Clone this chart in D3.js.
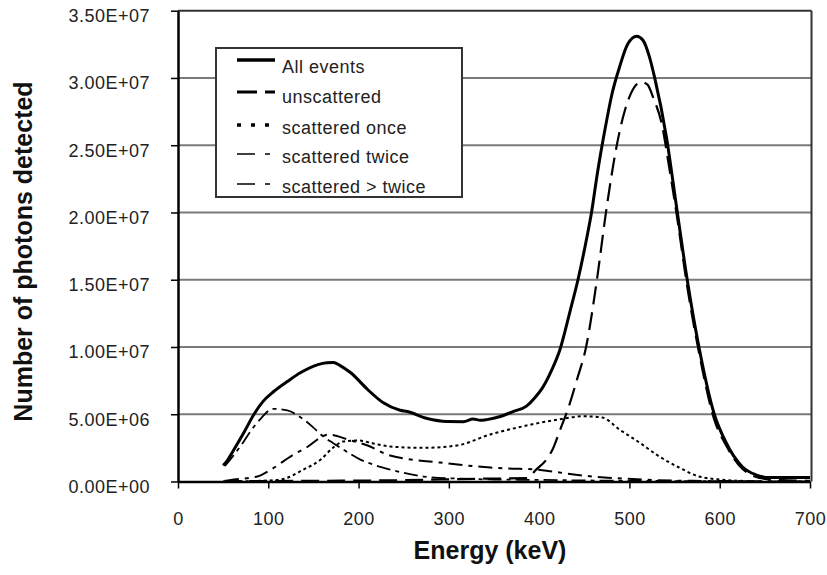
<!DOCTYPE html>
<html><head><meta charset="utf-8">
<script src="https://cdn.jsdelivr.net/npm/d3@7"></script>
<style>
body{margin:0;background:#fff}
text{font-family:"Liberation Sans",Arial,Helvetica,sans-serif}
</style>
</head><body>
<svg id="c" width="827" height="575"></svg>
<script>
// ---- data (energy in keV, counts in millions) ----
const allEnergy = [50,53,62,73,84,94,106,121,136,155,165,172,180,191,210,227,246,254,276,298,316,327,335,342,357,371,386,395,404,414,423,434,443,453,458,464,473,481,489,498,508,515,522,528,541,552,564,577,594,607,625,640,655,700];
const allCounts = [1.2,1.41,2.38,3.64,4.98,5.94,6.69,7.43,8.10,8.69,8.82,8.84,8.6,8.10,6.84,5.87,5.3,5.2,4.68,4.46,4.45,4.65,4.55,4.6,4.83,5.2,5.6,6.2,7.0,8.3,9.8,12.6,15.0,18.2,20.0,22.7,26.2,28.9,30.8,32.5,33.1,32.8,31.6,30.0,25.6,20.5,15.0,10.0,5.0,2.9,1.1,0.5,0.3,0.3];

const unscEnergy = [50,150,250,330,386,397,408,415,423,432,442,452,464,474,486,495,502,513,520,526,537,542,552,564,577,594,607,625,650,700];
const unscCounts = [0.02,0.05,0.1,0.2,0.25,0.9,1.63,2.4,3.8,5.4,7.6,10.0,15.0,20.0,25.0,27.6,28.9,29.7,29.5,28.6,26.2,24.2,20.0,14.5,9.6,4.6,2.7,0.95,0.2,0.05];

const onceEnergy = [55,90,114,139,158,172,183,199,215,235,272,309,346,382,420,450,470,489,511,533,555,577,600,622,640];
const onceCounts = [0.0,0.05,0.15,0.89,1.63,2.53,2.97,3.05,2.85,2.6,2.5,2.68,3.5,4.1,4.6,4.85,4.75,3.86,2.9,1.86,1.04,0.37,0.15,0.05,0.0];

const twiceEnergy = [52,62,88,103,128,144,158,166,175,188,210,235,290,346,364,397,431,459,492,530,570,650,700];
const twiceCounts = [0.05,0.15,0.37,0.89,2.0,2.6,3.27,3.49,3.4,3.12,2.68,1.93,1.41,1.04,0.97,0.89,0.59,0.37,0.22,0.1,0.05,0.02,0.0];

const moreEnergy = [52,70,81,92,105,121,136,150,161,172,183,202,216,235,272,309,350,400,450,500,560,620,700];
const moreCounts = [1.15,2.7,3.8,4.7,5.4,5.28,4.76,4.01,3.34,2.85,2.38,1.63,1.26,0.89,0.37,0.22,0.15,0.12,0.08,0.05,0.03,0.02,0.01];

const xTickValues = [0,100,200,300,400,500,600,700];
const yTickValues = [0,5,10,15,20,25,30,35];
const yTickLabels = ["0.00E+00","5.00E+06","1.00E+07","1.50E+07","2.00E+07","2.50E+07","3.00E+07","3.50E+07"];
const legendLabels = ["All events","unscattered","scattered once","scattered twice","scattered > twice"];
const xTitle = "Energy (keV)";
const yTitle = "Number of photons detected";

// ---- drawing ----
const svg = d3.select("#c");
const x = d3.scaleLinear().domain([0,700]).range([178,810]);
const y = d3.scaleLinear().domain([0,35]).range([481.5,10.7]);
const xRight = 811.5;

// gridlines
svg.append("g").selectAll("line").data(yTickValues.filter(v=>v>0 && v<35)).join("line")
  .attr("x1",x(0)).attr("x2",xRight).attr("y1",d=>y(d)).attr("y2",d=>y(d))
  .attr("stroke","#7a7a7a").attr("stroke-width",2);

// top and right border
svg.append("line").attr("x1",x(0)).attr("x2",xRight).attr("y1",y(35)).attr("y2",y(35))
  .attr("stroke","#333").attr("stroke-width",2);
svg.append("line").attr("x1",xRight).attr("x2",xRight).attr("y1",y(35)).attr("y2",y(0))
  .attr("stroke","#333").attr("stroke-width",2);

// series
const series = [
  {E:moreEnergy, V:moreCounts, w:1.8, dash:"14,5,4,5"},
  {E:twiceEnergy, V:twiceCounts, w:2, dash:"14,6,4,6"},
  {E:onceEnergy, V:onceCounts, w:2, dash:"3,3"},
  {E:unscEnergy, V:unscCounts, w:2.2, dash:"18,8"},
  {E:allEnergy, V:allCounts, w:3, dash:null}
];
const line = d3.line().x(d=>x(d[0])).y(d=>y(d[1])).curve(d3.curveMonotoneX);
series.forEach(s=>{
  svg.append("path").datum(s.E.map((e,i)=>[e,s.V[i]]))
    .attr("d",line).attr("fill","none").attr("stroke","#000")
    .attr("stroke-width",s.w).attr("stroke-dasharray",s.dash)
    .attr("stroke-linejoin","round");
});

// axes
const yAxis = svg.append("g").attr("transform",`translate(${x(0)},0)`)
  .call(d3.axisLeft(y).tickValues(yTickValues).tickFormat((d,i)=>yTickLabels[i]).tickSize(7).tickSizeOuter(0).tickPadding(21));
yAxis.selectAll(".tick text").attr("dy","0.6em");
const xAxis = svg.append("g").attr("transform",`translate(0,${y(0)})`)
  .call(d3.axisBottom(x).tickValues(xTickValues).tickFormat(d3.format("d")).tickSize(7).tickSizeOuter(0).tickPadding(24));
[yAxis,xAxis].forEach(g=>{
  g.select(".domain").attr("stroke","#000").attr("stroke-width",2.5);
  g.selectAll(".tick line").attr("stroke","#000").attr("stroke-width",1.5);
  g.selectAll(".tick text").attr("font-size",18).attr("fill","#222").attr("letter-spacing","0.5px")
    .attr("font-family",'"Liberation Sans",Arial,sans-serif');
});

// titles
svg.append("text").attr("x",490).attr("y",559).attr("text-anchor","middle")
  .attr("font-size",25).attr("font-weight","bold").attr("fill","#111").text(xTitle);
svg.append("text").attr("transform","translate(32,251.5) rotate(-90)").attr("text-anchor","middle")
  .attr("font-size",25).attr("font-weight","bold").attr("fill","#111").text(yTitle);

// legend
const lg = svg.append("g");
lg.append("rect").attr("x",216).attr("y",48).attr("width",246).attr("height",149)
  .attr("fill","#fff").attr("stroke","#333").attr("stroke-width",2);
const legendStyles = [
  {w:3.5, dash:null},
  {w:3, dash:"20,8"},
  {w:3.5, dash:"4,10"},
  {w:1.6, dash:"18,10,5,10"},
  {w:1.4, dash:"18,10,5,10"}
];
const legendLineY = [60,92,125,154,184];
const legendTextY = [73,103,134,163,193];
legendLabels.forEach((lab,i)=>{
  lg.append("line").attr("x1",237).attr("x2",275).attr("y1",legendLineY[i]).attr("y2",legendLineY[i])
    .attr("stroke","#000").attr("stroke-width",legendStyles[i].w).attr("stroke-dasharray",legendStyles[i].dash);
  lg.append("text").attr("x",282).attr("y",legendTextY[i]).attr("font-size",18).attr("letter-spacing","0.5px")
    .attr("fill","#222").text(lab);
});
</script>
</body></html>
